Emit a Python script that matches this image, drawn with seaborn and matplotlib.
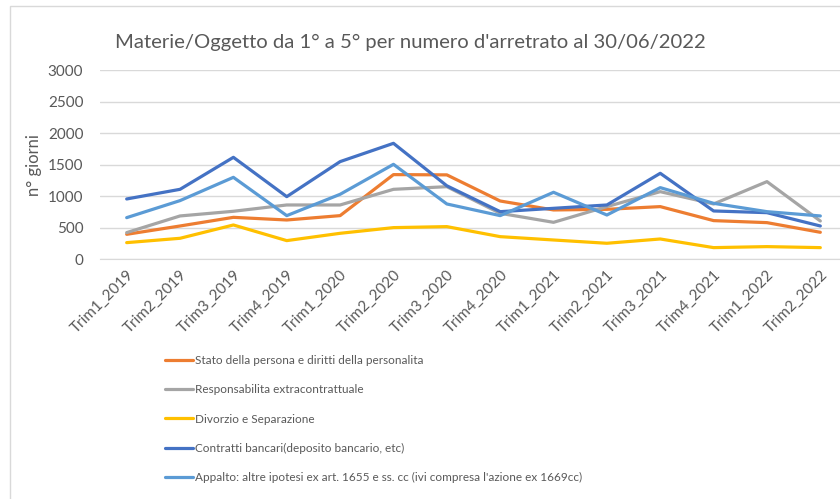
import numpy as np
import pandas as pd
import seaborn as sns
import matplotlib.pyplot as plt
from matplotlib.patches import Rectangle

# Data
quarters = [
    "Trim1_2019", "Trim2_2019", "Trim3_2019", "Trim4_2019",
    "Trim1_2020", "Trim2_2020", "Trim3_2020", "Trim4_2020",
    "Trim1_2021", "Trim2_2021", "Trim3_2021", "Trim4_2021",
    "Trim1_2022", "Trim2_2022",
]
stato_persona = [396, 528, 665, 623, 692, 1342, 1338, 924, 782, 792, 835, 613, 581, 428]
responsabilita = [423, 687, 761, 861, 861, 1109, 1151, 729, 586, 835, 1072, 877, 1231, 607]
divorzio = [264, 333, 544, 296, 412, 502, 518, 359, 306, 254, 322, 185, 201, 185]
contratti_bancari = [956, 1109, 1616, 993, 1548, 1838, 1165, 755, 808, 861, 1363, 766, 739, 528]
appalto = [660, 930, 1299, 692, 1030, 1505, 877, 692, 1062, 702, 1136, 887, 755, 687]

series_names = [
    "Stato della persona e diritti della personalita",
    "Responsabilita extracontrattuale",
    "Divorzio e Separazione",
    "Contratti bancari(deposito bancario, etc)",
    "Appalto: altre ipotesi ex art. 1655 e ss. cc (ivi compresa l'azione ex 1669cc)",
]
series_values = [stato_persona, responsabilita, divorzio, contratti_bancari, appalto]
colors = ["#ED7D31", "#A5A5A5", "#FFC000", "#4472C4", "#5B9BD5"]

rows = []
for name, values in zip(series_names, series_values):
    for i, v in enumerate(values):
        rows.append({"pos": i, "quarter": quarters[i], "serie": name, "giorni": v})
df = pd.DataFrame(rows)

sns.set_style("white")
plt.rcParams["font.family"] = ["Lato", "DejaVu Sans"]
text_color = "#595959"

fig = plt.figure(figsize=(8.4, 4.99), dpi=100)
ax = fig.add_axes([100 / 840, 1 - 259.3 / 499, 747 / 840, (259.3 - 70) / 499])

sns.lineplot(
    data=df, x="pos", y="giorni", hue="serie", hue_order=series_names,
    palette=colors, linewidth=2.3, ax=ax, legend=False,
)

ax.set_xlim(-0.5, len(quarters) - 0.5)
ax.set_ylim(0, 3000)
ax.set_yticks(np.arange(0, 3001, 500))
ax.yaxis.grid(True, color="#D9D9D9", linewidth=1)
ax.set_axisbelow(True)
for side in ["top", "right", "left"]:
    ax.spines[side].set_visible(False)
ax.spines["bottom"].set_color("#D9D9D9")

ax.set_xticks(range(len(quarters)))
ax.set_xticklabels(quarters, rotation=45, ha="right", rotation_mode="anchor",
                   color=text_color, fontsize=11)
ax.tick_params(axis="y", labelsize=11, colors=text_color, length=0, pad=12)
ax.tick_params(axis="x", length=0, pad=6)
ax.set_xlabel("")
ax.set_ylabel("n° giorni", color=text_color, fontsize=12, labelpad=4)

fig.text(410 / 840, 1 - 42 / 499, "Materie/Oggetto da 1° a 5° per numero d'arretrato al 30/06/2022",
         ha="center", va="center", fontsize=14.6, color=text_color)

handles = [plt.Line2D([], [], color=c, linewidth=2.3) for c in colors]
fig.legend(handles, series_names, loc="upper left", bbox_to_anchor=(160 / 840, 1 - 350 / 499),
           frameon=False, fontsize=8.5, labelcolor=text_color,
           handlelength=2.4, handletextpad=0.15, labelspacing=1.56, borderaxespad=0)

# chart frame
fig.patches.append(Rectangle((9.5 / 840, -0.1), 1.2, 1 - 6 / 499 + 0.1, transform=fig.transFigure,
                             fill=False, edgecolor="#D9D9D9", linewidth=1))

fig.savefig("out.png", dpi=100)
